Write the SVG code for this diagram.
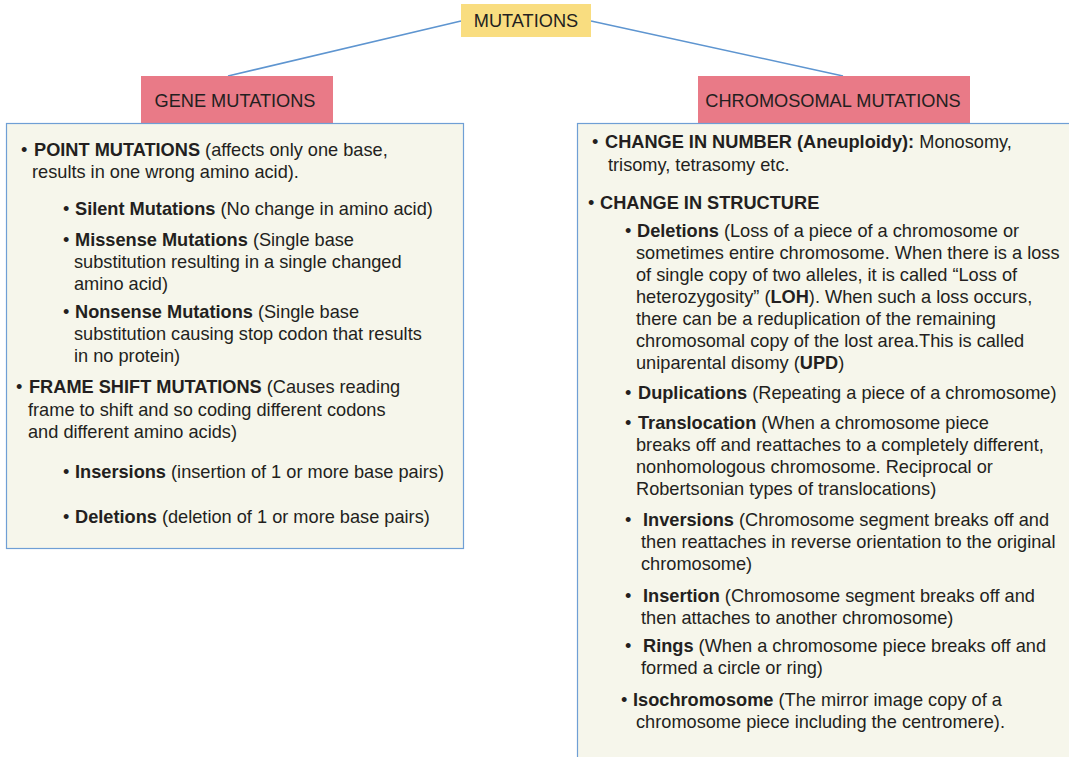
<svg xmlns="http://www.w3.org/2000/svg" width="1069" height="757" viewBox="0 0 1069 757">
  <style>
    .t { font-family: "Liberation Sans", Arial, Helvetica, sans-serif; font-size: 18.2px; fill: #231f20; }
    .b { font-weight: bold; }
    .hdr { font-family: "Liberation Sans", Arial, Helvetica, sans-serif; font-size: 18.2px; fill: #231f20; text-anchor: middle; }
    .panel { fill: #f6f6eb; stroke: #6f9fd5; stroke-width: 1.2; }
    .pink { fill: #e97a87; }
    .yellow { fill: #f9dd80; }
    .link { stroke: #5e95d0; stroke-width: 1.5; fill: none; }
  </style>

  <rect width="1069" height="757" fill="#ffffff"/>

  <!-- connectors -->
  <g id="connectors">
    <line class="link" x1="461" y1="21" x2="228" y2="76"/>
    <line class="link" x1="591" y1="21" x2="843" y2="76"/>
  </g>

  <!-- root -->
  <g id="mutations">
    <rect class="yellow" x="461" y="4" width="130" height="33"/>
    <text class="hdr" x="526" y="27">MUTATIONS</text>
  </g>

  <!-- gene mutations branch -->
  <g id="gene-mutations">
    <rect class="pink" x="141" y="76" width="192" height="48"/>
    <text class="hdr" x="235" y="106.5">GENE MUTATIONS</text>
  </g>

  <g id="gene-details">
    <rect class="panel" x="6.5" y="123.5" width="457" height="425"/>
    <text class="t" x="21" y="156">•<tspan class="b" x="34">POINT MUTATIONS</tspan> (affects only one base,</text>
    <text class="t" x="32" y="178">results in one wrong amino acid).</text>

    <text class="t" x="63" y="215">•<tspan class="b" x="75">Silent Mutations</tspan> (No change in amino acid)</text>

    <text class="t" x="63" y="246">•<tspan class="b" x="75">Missense Mutations</tspan> (Single base</text>
    <text class="t" x="74" y="268">substitution resulting in a single changed</text>
    <text class="t" x="74" y="290">amino acid)</text>

    <text class="t" x="63" y="318">•<tspan class="b" x="75">Nonsense Mutations</tspan> (Single base</text>
    <text class="t" x="74" y="340">substitution causing stop codon that results</text>
    <text class="t" x="74" y="362">in no protein)</text>

    <text class="t" x="16" y="393">•<tspan class="b" x="29">FRAME SHIFT MUTATIONS</tspan> (Causes reading</text>
    <text class="t" x="28" y="416">frame to shift and so coding different codons</text>
    <text class="t" x="28" y="438">and different amino acids)</text>

    <text class="t" x="63" y="478">•<tspan class="b" x="75">Insersions</tspan> (insertion of 1 or more base pairs)</text>
    <text class="t" x="63" y="523">•<tspan class="b" x="75">Deletions</tspan> (deletion of 1 or more base pairs)</text>
  </g>

  <!-- chromosomal mutations branch -->
  <g id="chromosomal-mutations">
    <rect class="pink" x="698" y="76" width="272" height="48"/>
    <text class="hdr" x="833" y="106.5">CHROMOSOMAL MUTATIONS</text>
  </g>

  <g id="chromosomal-details">
    <rect class="panel" x="577.5" y="123.5" width="600" height="700"/>
    <text class="t" x="592" y="148">•<tspan class="b" x="605">CHANGE IN NUMBER (Aneuploidy):</tspan> Monosomy,</text>
    <text class="t" x="608" y="171">trisomy, tetrasomy etc.</text>

    <text class="t" x="588" y="209">•<tspan class="b" x="600">CHANGE IN STRUCTURE</tspan></text>

    <text class="t" x="625" y="237">•<tspan class="b" x="637">Deletions</tspan> (Loss of a piece of a chromosome or</text>
    <text class="t" x="636" y="259">sometimes entire chromosome. When there is a loss</text>
    <text class="t" x="636" y="281">of single copy of two alleles, it is called “Loss of</text>
    <text class="t" x="636" y="303">heterozygosity” (<tspan class="b">LOH</tspan>). When such a loss occurs,</text>
    <text class="t" x="636" y="325">there can be a reduplication of the remaining</text>
    <text class="t" x="636" y="347">chromosomal copy of the lost area.This is called</text>
    <text class="t" x="636" y="369">uniparental disomy (<tspan class="b">UPD</tspan>)</text>

    <text class="t" x="625" y="399">•<tspan class="b" x="638">Duplications</tspan> (Repeating a piece of a chromosome)</text>

    <text class="t" x="625" y="429">•<tspan class="b" x="638">Translocation</tspan> (When a chromosome piece</text>
    <text class="t" x="636" y="451">breaks off and reattaches to a completely different,</text>
    <text class="t" x="636" y="473">nonhomologous chromosome. Reciprocal or</text>
    <text class="t" x="636" y="495">Robertsonian types of translocations)</text>

    <text class="t" x="625" y="526">•<tspan class="b" x="643">Inversions</tspan> (Chromosome segment breaks off and</text>
    <text class="t" x="641" y="548">then reattaches in reverse orientation to the original</text>
    <text class="t" x="641" y="570">chromosome)</text>

    <text class="t" x="625" y="602">•<tspan class="b" x="643">Insertion</tspan> (Chromosome segment breaks off and</text>
    <text class="t" x="641" y="624">then attaches to another chromosome)</text>

    <text class="t" x="625" y="652">•<tspan class="b" x="643">Rings</tspan> (When a chromosome piece breaks off and</text>
    <text class="t" x="641" y="674">formed a circle or ring)</text>

    <text class="t" x="621" y="706">•<tspan class="b" x="633">Isochromosome</tspan> (The mirror image copy of a</text>
    <text class="t" x="636" y="728">chromosome piece including the centromere).</text>
  </g>
</svg>
